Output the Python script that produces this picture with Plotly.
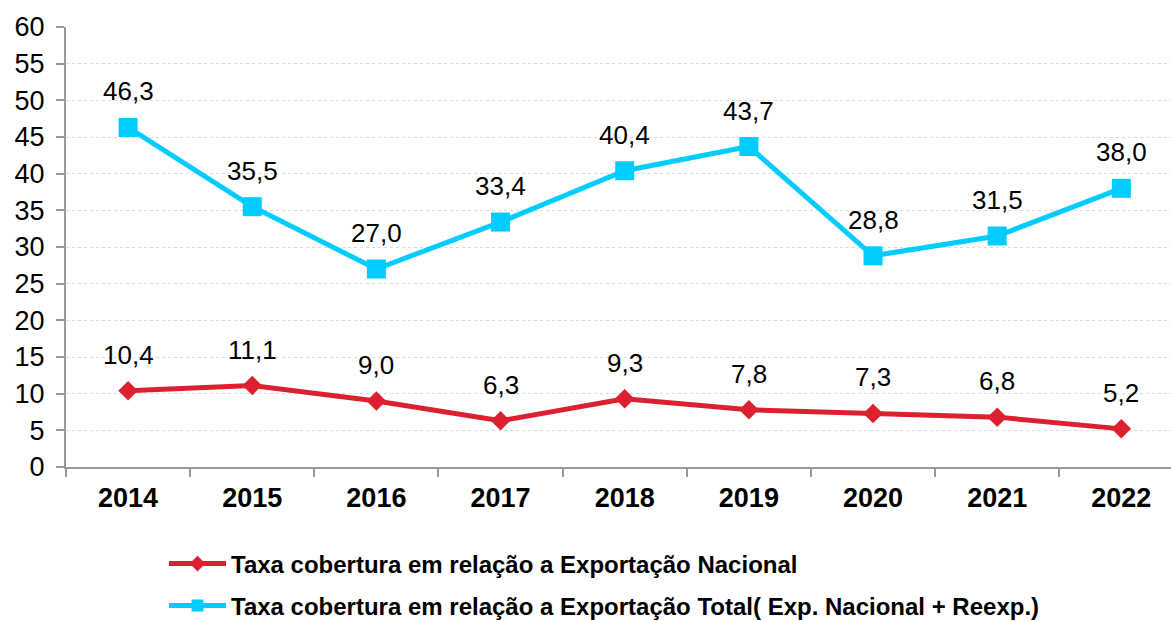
import plotly.graph_objects as go

years = ["2014", "2015", "2016", "2017", "2018", "2019", "2020", "2021", "2022"]
nacional = [10.4, 11.1, 9.0, 6.3, 9.3, 7.8, 7.3, 6.8, 5.2]
total = [46.3, 35.5, 27.0, 33.4, 40.4, 43.7, 28.8, 31.5, 38.0]
name_nac = "Taxa cobertura em relação a Exportação Nacional"
name_tot = "Taxa cobertura em relação a Exportação Total( Exp. Nacional + Reexp.)"

RED = "#DD2030"
BLUE = "#00CCFF"
FONT = "Liberation Sans, Arial, sans-serif"

fig = go.Figure()
fig.add_trace(go.Scatter(
    x=years, y=nacional, name=name_nac, mode="lines+markers",
    line=dict(color=RED, width=5),
    marker=dict(symbol="diamond", size=15, color=RED),
    legend="legend",
))
fig.add_trace(go.Scatter(
    x=years, y=total, name=name_tot, mode="lines+markers",
    line=dict(color=BLUE, width=5),
    marker=dict(symbol="square", size=19, color=BLUE),
    legend="legend2",
))

def fmt(v):
    return f"{v:.1f}".replace(".", ",")

for series in (nacional, total):
    for i, v in enumerate(series):
        fig.add_annotation(x=i, y=v, xref="x", yref="y", text=fmt(v), showarrow=False,
                           yshift=36, font=dict(family=FONT, size=26, color="#000000"))

legend_common = dict(
    orientation="h", xref="paper", yref="container", xanchor="left", yanchor="middle",
    font=dict(family=FONT, size=24, color="#000000", weight="bold"),
    bgcolor="rgba(0,0,0,0)", itemwidth=57, itemsizing="constant",
)
fig.update_layout(
    width=1171, height=621,
    margin=dict(l=66, r=0, t=27, b=154, autoexpand=False),
    paper_bgcolor="white", plot_bgcolor="white",
    showlegend=True,
    legend=dict(x=(164 - 66) / 1105, y=(621 - 564) / 621, **legend_common),
    legend2=dict(x=(164 - 66) / 1105, y=(621 - 606) / 621, **legend_common),
    xaxis=dict(
        type="category", range=[-0.5, 8.4],
        showline=True, linecolor="#999999", linewidth=2,
        ticks="outside", ticklen=8, tickcolor="#999999", tickwidth=2,
        tickson="boundaries", showgrid=False,
        tickfont=dict(family=FONT, size=27, color="#000000", weight="bold"),
        ticklabelstandoff=6,
    ),
    yaxis=dict(
        range=[0, 60], dtick=5,
        showline=True, linecolor="#999999", linewidth=2,
        ticks="outside", ticklen=8, tickcolor="#999999", tickwidth=2,
        showgrid=True, gridcolor="#D9D9D9", griddash="dot", gridwidth=1,
        zeroline=False,
        tickfont=dict(family=FONT, size=27, color="#000000"),
        ticklabelstandoff=6,
    ),
)

fig.write_html("out.html", config={"displayModeBar": False},
               post_script="document.body.style.margin='0';")
